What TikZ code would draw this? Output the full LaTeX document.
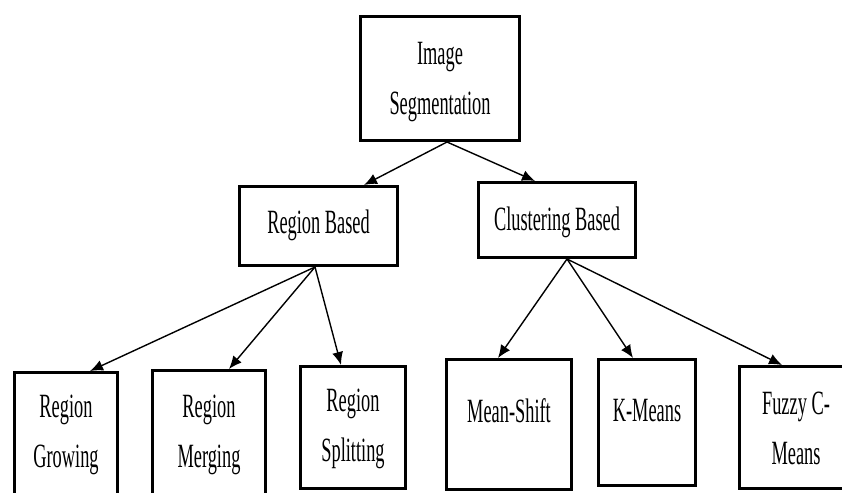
\documentclass[tikz,border=0pt]{standalone}
\usepackage{fontspec}
\setmainfont{Liberation Serif}[FakeStretch=0.54]
\usetikzlibrary{arrows.meta,calc}
\tikzset{
  boxnode/.style={draw=black, line width=3pt, rectangle, inner sep=0pt},
  lbl/.style={inner sep=0pt, align=center, font=\fontsize{34}{50}\selectfont},
  arr/.style={draw=black, line width=1.4pt, -{Latex[length=13pt,width=11pt]}}
}
\begin{document}
\begin{tikzpicture}[x=1pt,y=-1pt]
\clip (0,0) rectangle (842,492);
\fill[white] (0,0) rectangle (842,492);
% boxes
\node[boxnode, minimum width=159pt, minimum height=124pt] (ims) at (440,78.5) {};
\node[boxnode, minimum width=158pt, minimum height=79pt] (rb) at (318.5,226) {};
\node[boxnode, minimum width=157pt, minimum height=75pt] (cb) at (557,220) {};
\node[boxnode, minimum width=103pt, minimum height=146pt] (rg) at (66,445.5) {};
\node[boxnode, minimum width=113pt, minimum height=148pt] (rm) at (209,444.5) {};
\node[boxnode, minimum width=105pt, minimum height=122pt] (rs) at (353,427.5) {};
\node[boxnode, minimum width=125pt, minimum height=130pt] (ms) at (509,424.5) {};
\node[boxnode, minimum width=97pt, minimum height=126pt] (km) at (647,422.5) {};
\node[boxnode, minimum width=113pt, minimum height=122pt] (fz) at (796,427.5) {};
% labels
\node[lbl, anchor=north] (tims) at (440,42) {Image\\Segmentation};
\node[lbl, anchor=base] (trb) at (318.5,233) {Region Based};
\node[lbl, anchor=base] (tcb) at (557,230) {Clustering Based};
\node[lbl, anchor=north] (trg) at (66,395) {Region\\Growing};
\node[lbl, anchor=north] (trm) at (209,395) {Region\\Merging};
\node[lbl, anchor=north] (trs) at (353,389) {Region\\Splitting};
\node[lbl, anchor=base] (tms) at (509,422) {Mean-Shift};
\node[lbl, anchor=base] (tkm) at (647,421) {K-Means};
\node[lbl, anchor=north] (tfz) at (796,392) {Fuzzy C-\\Means};
% connectors
\draw[arr] ($(ims.south)+(7,0)$) -- ($(rb.north)+(45.5,0)$);
\draw[arr] ($(ims.south)+(7,0)$) -- ($(cb.north)+(-22,0)$);
\draw[arr] ($(rb.south)+(-3.5,0)$) -- ($(rg.north)+(24,0)$);
\draw[arr] ($(rb.south)+(-3.5,0)$) -- ($(rm.north)+(20,0)$);
\draw[arr] ($(rb.south)+(-3.5,0)$) -- ($(rs.north)+(-12,0)$);
\draw[arr] ($(cb.south)+(10,0)$) -- ($(ms.north)+(-11,0)$);
\draw[arr] ($(cb.south)+(10,0)$) -- ($(km.north)+(-14,0)$);
\draw[arr] ($(cb.south)+(10,0)$) -- ($(fz.north)+(-14,0)$);
\end{tikzpicture}
\end{document}
